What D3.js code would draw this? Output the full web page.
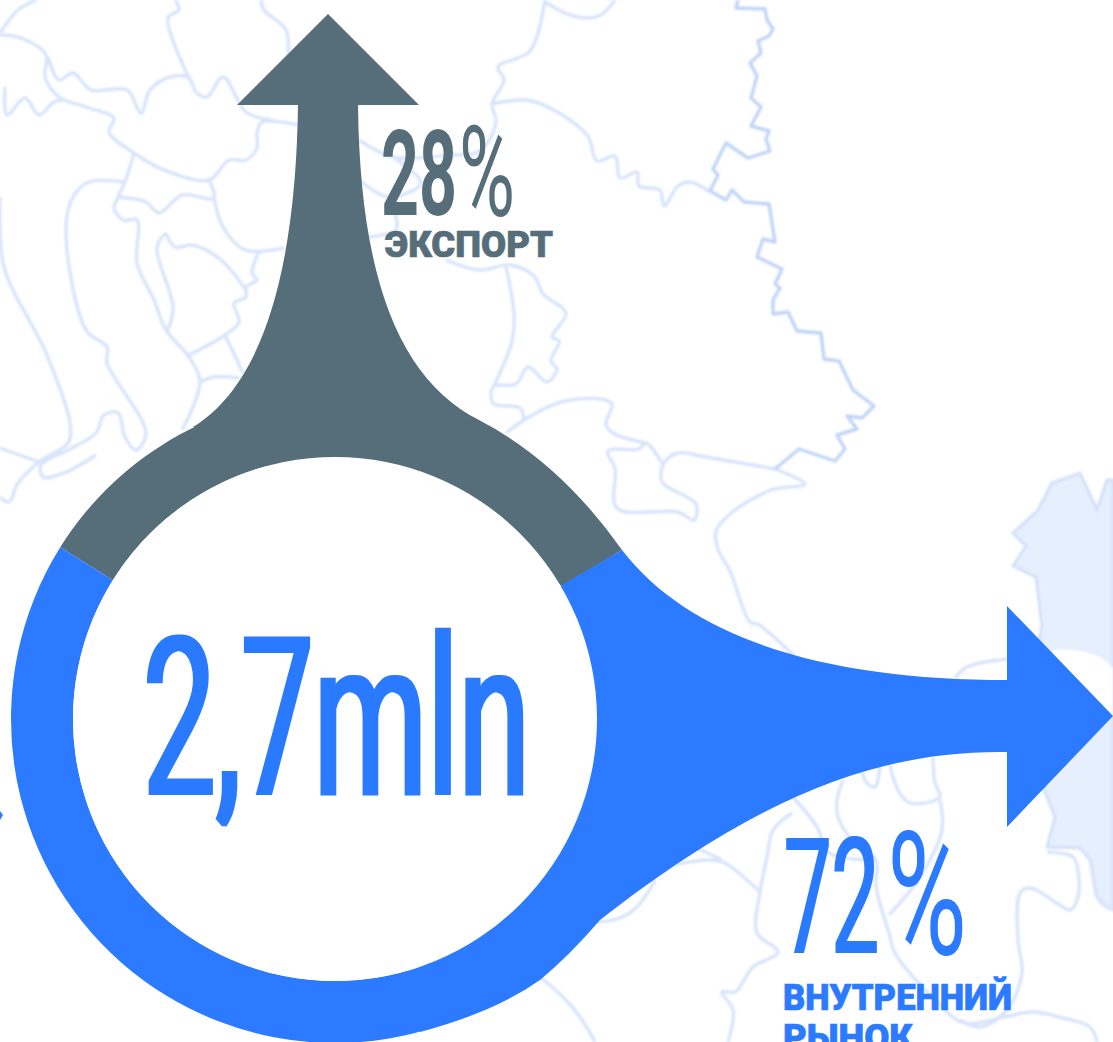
<!DOCTYPE html>
<html>
<head>
<meta charset="utf-8">
<script src="https://cdn.jsdelivr.net/npm/d3@7"></script>
<style>
  html, body { margin: 0; padding: 0; background: #fff; overflow: hidden; }
  svg { display: block; }
  text { font-family: "Liberation Sans Narrow", Roboto, sans-serif; }
  text.heavy { font-family: Roboto, "Open Sans", sans-serif; font-weight: 900; }
</style>
</head>
<body>
<div id="wrapper"></div>
<script>
// values
const total = "2,7mln"
const categories = ["ЭКСПОРТ", "ВНУТРЕННИЙ РЫНОК"]
const shareLabels = ["28", "72"]
const ringSpanDeg = [117.5, 242.5] // the ring is not cut to scale in the original

// background map, traced
const borderLines = [
  [[738,0],[736,8],[765,9],[767,20],[773,29],[769,36],[758,41],[761,53],[750,63],[757,76],[751,98],[761,107],[751,126],[769,131],[766,139],[770,151],[748,158],[726,143],[713,169],[718,175],[710,191],[726,200],[732,190],[744,202],[769,204],[775,242],[763,239],[757,257],[782,269],[775,284],[780,288],[773,300],[773,314],[788,312],[797,331],[821,333],[824,359],[839,361],[853,390],[874,406],[862,418],[847,416],[857,429],[837,435],[845,449],[835,461],[799,449],[775,469]],
]
const mapLines = [
  [[0,35],[21,38],[46,55],[45,77],[59,97],[86,107],[114,118],[109,132],[134,153],[164,170],[209,180],[229,160],[246,160],[257,148],[257,133],[262,122],[298,125]],
  [[48,57],[59,80],[73,73],[91,90],[127,90],[141,113],[150,90],[170,77],[189,78],[196,92],[207,97],[223,77],[246,112],[271,120]],
  [[5,87],[7,115],[25,98],[39,115],[54,102],[64,100]],
  [[175,0],[179,10],[168,18],[189,78]],
  [[261,0],[264,10],[286,30],[288,55]],
  [[0,33],[18,10],[36,0]],
  [[134,153],[125,182],[118,197],[114,208],[123,220],[137,220],[137,263],[154,300],[166,330],[189,357],[200,380],[193,407],[182,430]],
  [[125,182],[89,182],[73,197],[66,230],[86,330],[107,347],[107,363],[146,433],[136,450],[125,437],[118,413],[104,415],[96,433],[68,450],[41,465],[43,477],[64,473],[96,455]],
  [[0,197],[4,267],[46,353],[70,423],[68,443],[39,462],[18,483],[9,502],[0,497]],
  [[39,462],[0,448]],
  [[118,197],[146,202],[159,213],[182,195],[214,198],[209,180]],
  [[214,198],[223,227],[245,250],[284,248]],
  [[259,252],[252,273],[257,280],[246,287],[246,297],[234,303],[239,322],[225,335],[189,355]],
  [[225,335],[243,373]],
  [[166,233],[157,247],[173,307],[168,330]],
  [[166,233],[175,247],[193,245],[221,260],[246,290]],
  [[200,382],[214,377],[239,378]],
  [[545,0],[530,51],[498,67],[504,80],[492,104],[496,122],[480,151],[450,155],[393,157],[359,140]],
  [[393,157],[421,183],[389,197],[359,180]],
  [[492,104],[532,101],[587,135],[597,161],[615,156],[620,178],[637,172],[639,186],[660,190],[664,206],[678,186],[690,182],[710,192]],
  [[545,2],[573,16],[599,16],[615,0]],
  [[775,469],[706,457],[678,453],[664,463],[662,482],[696,504],[694,520],[678,512],[617,508],[615,469],[608,451],[639,449],[646,443],[662,463]],
  [[646,443],[613,433],[606,424],[612,404],[601,399],[561,402],[524,420],[506,433]],
  [[524,420],[520,408],[494,404],[491,394],[494,386],[516,384],[528,367],[547,382],[557,369],[551,361],[559,341],[552,337],[566,313],[543,294],[534,276],[510,265],[479,270],[446,260]],
  [[506,267],[514,314],[512,341],[494,386]],
  [[368,237],[396,230],[395,213]],
  [[775,469],[805,484],[771,490],[730,514],[716,531],[718,549],[730,571],[750,622],[759,625],[793,655]],
  [[1007,659],[967,667],[955,678]],
  [[933,757],[935,783],[940,797],[910,803],[898,790],[890,765]],
  [[880,767],[875,787],[867,783],[862,772]],
  [[843,780],[837,800],[838,817],[852,840],[876,860],[876,887],[889,933],[895,953],[935,1000],[964,1023],[1004,1017],[1033,1012],[1063,1018],[1090,1027],[1097,1042]],
  [[793,797],[817,827],[829,853],[876,860]],
  [[792,813],[773,830],[767,857],[760,892],[757,933],[778,952],[753,967],[735,992],[722,992],[733,1010],[728,1042]],
  [[940,800],[942,830],[920,877],[889,915]],
  [[597,922],[620,918],[637,907],[655,880]],
  [[673,865],[707,860],[723,862],[760,892]],
  [[697,848],[722,860]],
  [[540,977],[563,997],[580,1017],[595,1042]],
  [[1047,852],[1073,857],[1078,870],[1078,897],[1070,910],[1060,905],[1030,888],[1020,893],[1018,940],[1022,973],[1007,1010],[980,1027],[960,1020]],
  [[1080,848],[1090,860],[1097,897],[1107,907],[1113,908]],
]
const paleRegion = [[1113,480],[1107,480],[1097,510],[1080,473],[1052,483],[1038,510],[1013,533],[1026,546],[1013,566],[1036,577],[1042,627],[1020,720],[1045,792],[1055,817],[1047,847],[1080,848],[1090,860],[1097,897],[1107,907],[1113,910]]

function drawChart() {
  // 1. Dimensions
  const dimensions = {
    width: 1113,
    height: 1042,
    centerX: 335,
    centerY: 719,
    outerRadius: 324,
    innerRadius: 262,
  }
  const blue = "#2b7aff"
  const slate = "#566e7a"

  // 2. Draw canvas
  const svg = d3.select("#wrapper").append("svg")
    .attr("width", dimensions.width)
    .attr("height", dimensions.height)

  const defs = svg.append("defs")
  defs.append("filter").attr("id", "soft")
    .append("feGaussianBlur").attr("stdDeviation", 0.9)
  // the original type is very condensed, this fattens the squeezed stems only
  const fatten = (id, r) => defs.append("filter").attr("id", id)
    .attr("x", "-5%").attr("width", "110%")
    .append("feMorphology").attr("operator", "dilate").attr("radius", `${r} 0`)
  fatten("fat1", 1)
  fatten("fat2", 2)

  // 3. Scales
  const xScale = d3.scaleLinear().domain([0, dimensions.width]).range([0, dimensions.width])
  const yScale = d3.scaleLinear().domain([0, dimensions.height]).range([0, dimensions.height])
  const colorScale = d3.scaleOrdinal().domain(categories).range([slate, blue])
  const lineGenerator = d3.line().x(d => xScale(d[0])).y(d => yScale(d[1]))
  const smoothLine = d3.line().x(d => xScale(d[0])).y(d => yScale(d[1]))
    .curve(d3.curveCatmullRom.alpha(.5))

  // 4. Background map
  const map = svg.append("g").attr("filter", "url(#soft)")
  map.append("path")
    .attr("d", lineGenerator(paleRegion) + "Z")
    .attr("fill", "#e6effd")
    .attr("stroke", "#d3e0fa")
    .attr("stroke-width", 3)
  map.append("path")
    .attr("d", "M1052,650C1075,648 1100,652 1113,668L1113,716L1052,716Z")
    .attr("fill", "#fff")
  map.selectAll(".map-line")
    .data(mapLines)
    .enter().append("path")
    .attr("class", "map-line")
    .attr("d", smoothLine)
    .attr("fill", "none")
    .attr("stroke", "#d8e4fb")
    .attr("stroke-width", 3.4)
    .attr("stroke-linejoin", "round")
  map.selectAll(".border-line")
    .data(borderLines)
    .enter().append("path")
    .attr("class", "border-line")
    .attr("d", lineGenerator)
    .attr("fill", "none")
    .attr("stroke", "#c0d4f8")
    .attr("stroke-width", 3.4)
    .attr("stroke-linejoin", "round")

  // 5. Arrows
  const exportArrow = d3.path()
  exportArrow.moveTo(328, 14)
  exportArrow.lineTo(419, 105)
  exportArrow.lineTo(358, 105)
  exportArrow.bezierCurveTo(360, 280, 400, 380, 479, 420)
  exportArrow.quadraticCurveTo(560, 462, 622, 550)
  exportArrow.lineTo(562, 585)
  exportArrow.lineTo(335, 500)
  exportArrow.lineTo(193, 427)
  exportArrow.bezierCurveTo(270, 380, 296, 250, 298, 105)
  exportArrow.lineTo(237, 105)
  exportArrow.closePath()
  svg.append("path").attr("d", exportArrow.toString()).attr("fill", colorScale(categories[0]))

  const domesticArrow = d3.path()
  domesticArrow.moveTo(622, 550)
  domesticArrow.bezierCurveTo(695, 645, 840, 680, 1007, 680)
  domesticArrow.lineTo(1007, 606)
  domesticArrow.lineTo(1113, 716)
  domesticArrow.lineTo(1007, 827)
  domesticArrow.lineTo(1007, 752)
  domesticArrow.bezierCurveTo(880, 750, 760, 795, 600, 920)
  domesticArrow.quadraticCurveTo(570, 955, 540, 980)
  domesticArrow.quadraticCurveTo(495, 1012, 420, 1032)
  domesticArrow.lineTo(420, 900)
  domesticArrow.lineTo(562, 585)
  domesticArrow.closePath()
  svg.append("path").attr("d", domesticArrow.toString()).attr("fill", colorScale(categories[1]))

  svg.append("path").attr("d", "M0,811L3,815L0,820Z").attr("fill", blue)

  // 6. Ring
  const pie = d3.pie().sort(null)
    .startAngle(-58 * Math.PI / 180)
    .endAngle(302 * Math.PI / 180)
  const arcGenerator = d3.arc()
    .innerRadius(dimensions.innerRadius)
    .outerRadius(dimensions.outerRadius)
  const ring = svg.append("g")
    .attr("transform", `translate(${dimensions.centerX}, ${dimensions.centerY})`)
  ring.selectAll(".slice")
    .data(pie(ringSpanDeg))
    .enter().append("path")
    .attr("class", "slice")
    .attr("d", arcGenerator)
    .attr("fill", (d, i) => colorScale(categories[i]))
  ring.append("circle").attr("r", dimensions.innerRadius).attr("fill", "#fff")

  // 7. Text, squeezed to the widths measured on the picture
  const label = (str, x, y, width, size, weight, color, filter) => svg.append("text")
    .attr("x", x)
    .attr("y", y)
    .attr("textLength", width)
    .attr("lengthAdjust", "spacingAndGlyphs")
    .attr("font-size", size)
    .attr("font-weight", weight)
    .attr("fill", color)
    .attr("filter", filter ? `url(#${filter})` : null)
    .text(str)
  const heavyLabel = (str, x, y, width, color) => label(str, x, y, width, 36, 900, color)
    .attr("class", "heavy")
    .attr("stroke", color)
    .attr("stroke-width", .7)

  label(total, 143, 795, 387, 223, 400, blue, "fat2")

  label(shareLabels[0], 381, 215, 76, 118, 700, slate)
  label("%", 459, 216, 56, 126, 400, slate)
  heavyLabel(categories[0], 385, 257, 168, slate)

  label(shareLabels[1], 784, 953, 95, 162, 400, blue, "fat1")
  label("%", 887, 954, 80, 172, 400, blue)
  const domesticWords = categories[1].split(" ")
  heavyLabel(domesticWords[0], 783, 1010, 229, blue)
  heavyLabel(domesticWords[1], 783, 1050, 130, blue)
}
drawChart()
</script>
</body>
</html>
